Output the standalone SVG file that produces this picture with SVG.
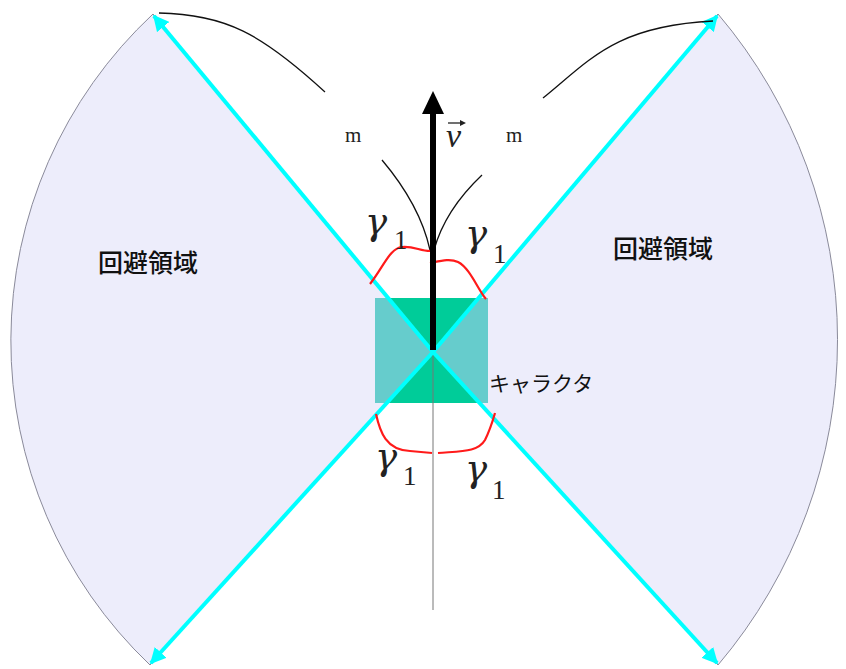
<svg xmlns="http://www.w3.org/2000/svg" width="846" height="669" viewBox="0 0 846 669">
<defs>
<marker id="cy" viewBox="0 0 10 10" refX="9" refY="5" markerWidth="4" markerHeight="4" orient="auto" markerUnits="strokeWidth"><path d="M0,0 L10,5 L0,10 Z" fill="#00ffff"/></marker>
<style>
.lobe{fill:#ededfb;stroke:#8a8a9a;stroke-width:1}
.cyan{stroke:#00ffff;stroke-width:4;fill:none;marker-end:url(#cy)}
.red{stroke:#ff1a1a;stroke-width:2.2;fill:none}
.blk{stroke:#111;stroke-width:1.3;fill:none}
.g{font-family:"DejaVu Serif",serif;font-style:italic;font-size:37px;fill:#222}
.sub{font-family:"Liberation Serif",serif;font-size:27px;fill:#222}
.m{font-family:"Liberation Serif",serif;font-size:21px;fill:#222}
.v{font-family:"Liberation Serif",serif;font-style:italic;font-size:34px;fill:#222}
.jp{font-family:"Noto Sans CJK JP",sans-serif;fill:#111}
</style>
</defs>
<rect width="846" height="669" fill="#ffffff"/>
<g id="lobe-left"><path class="lobe" d="M433,352 L153,14 A447,447 0 0,0 150,665 Z"/><text class="jp" x="98" y="272" font-size="25" font-weight="500">回避領域</text></g>
<g id="lobe-right"><path class="lobe" d="M433,352 L718,14 A503,503 0 0,1 718,665 Z"/><text class="jp" x="613" y="258" font-size="25" font-weight="500">回避領域</text></g>
<g id="character">
<rect x="375" y="298" width="113" height="105" fill="#66cccc"/>
<polygon points="389,298 478,298 433,352" fill="#00cc99"/>
<polygon points="386,403 481,403 433,352" fill="#00cc99"/>
<text class="jp" x="489" y="391" font-size="21">キャラクタ</text>
</g>
<g id="connectors">
<line x1="433" y1="100" x2="433" y2="610" stroke="#777" stroke-width="1"/>
<line class="cyan" x1="433" y1="352" x2="154" y2="16"/>
<line class="cyan" x1="433" y1="352" x2="717" y2="16"/>
<line class="cyan" x1="433" y1="352" x2="151" y2="663"/>
<line class="cyan" x1="433" y1="352" x2="717" y2="663"/>
<path class="blk" d="M159,13 C225,14 262,34 325,92"/>
<path class="blk" d="M543,98 C590,60 615,26 713,21"/>
<path class="blk" d="M382,160 Q420,205 430,250"/>
<path class="blk" d="M482,175 Q445,210 434,250"/>
<path class="red" d="M370,284 C384,266 390,248 402,247 C414,246 420,251 430,251"/>
<path class="red" d="M430,263 C440,261 450,258 458,262 C470,268 478,290 486,299"/>
<path class="red" d="M376,414 C380,432 386,450 410,451 L432,453"/>
<path class="red" d="M438,453 C462,451 478,452 485,440 C490,430 493,420 495,413"/>
<line x1="433" y1="350" x2="433" y2="112" stroke="#000" stroke-width="6"/>
<polygon points="422,114 444,114 433,91" fill="#000"/>
</g>
<g id="labels">
<text class="m" x="345" y="142">m</text>
<text class="m" x="506" y="142">m</text>
<text class="v" x="446" y="147">v</text>
<line x1="448" y1="123" x2="463" y2="123" stroke="#222" stroke-width="1.3"/>
<polygon points="466,123 460,120 460,126" fill="#222"/>
<text class="g" x="365" y="234">γ</text><text class="sub" x="394" y="249">1</text>
<text class="g" x="465" y="246">γ</text><text class="sub" x="493" y="263">1</text>
<text class="g" x="375" y="469">γ</text><text class="sub" x="403" y="485">1</text>
<text class="g" x="465" y="481">γ</text><text class="sub" x="492" y="499">1</text>
</g>
</svg>
